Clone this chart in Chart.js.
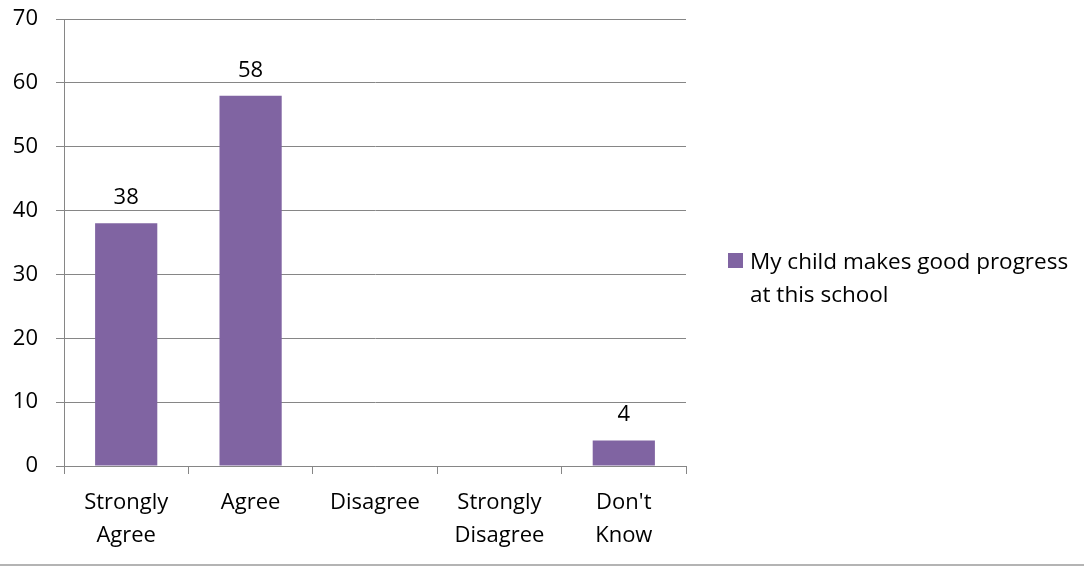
<!DOCTYPE html>
<html>
<head>
<meta charset="utf-8">
<script src="https://cdn.jsdelivr.net/npm/chart.js@4"></script>
<style>
  html, body { margin: 0; padding: 0; background: #fff; }
  .wrap { position: relative; width: 1086px; height: 566px; overflow: hidden; }
  .wrap canvas { position: absolute; left: 0; top: 0; }
  .baseLine { position: absolute; left: 0; top: 564px; width: 1084px; height: 0; border-top: 2px solid #b4b4b4; }
  .legend { position: absolute; left: 728px; top: 244px; width: 358px; font-family: "Open Sans", sans-serif; font-size: 22.5px; line-height: 33px; color: #000; }
  .legend .box { position: absolute; left: 0; top: 9px; width: 15px; height: 15px; background: #8064A2; }
  .legend .txt { margin-left: 22px; }
</style>
</head>
<body>
<div class="wrap">
  <canvas id="myChart" width="1086" height="566"></canvas>
  <div class="baseLine"></div>
  <div class="legend"><span class="box"></span><div class="txt" id="legendText"></div></div>
</div>
<script>
const categories = [["Strongly", "Agree"], "Agree", "Disagree", ["Strongly", "Disagree"], ["Don't", "Know"]]
const seriesName = "My child makes good progress at this school"
const values = [38, 58, 0, 0, 4]
const yTicks = [0, 10, 20, 30, 40, 50, 60, 70]

const purple = "#8064A2"
const axisGray = "#868686"
const fontFamily = "'Open Sans', sans-serif"

document.getElementById("legendText").textContent = seriesName

// numbers above the bars (skip zeros, like the original)
const barLabels = {
    id: 'barLabels',
    afterDatasetsDraw(chart) {
        const ctx = chart.ctx
        const meta = chart.getDatasetMeta(0)
        ctx.save()
        ctx.font = "22px " + fontFamily
        ctx.fillStyle = "#000"
        ctx.textAlign = "center"
        ctx.textBaseline = "alphabetic"
        meta.data.forEach((bar, i) => {
            if (!values[i]) return
            ctx.fillText(String(values[i]), bar.x, bar.y - 19)
        })
        ctx.restore()
    }
}

const ctx = document.getElementById("myChart").getContext("2d")

const chart = new Chart(ctx, {
    type: 'bar',
    data: {
        labels: categories,
        datasets: [{
            label: seriesName,
            data: values,
            backgroundColor: purple,
            borderWidth: 0,
            categoryPercentage: 1,
            barPercentage: 0.5
        }]
    },
    options: {
        responsive: false,
        animation: false,
        layout: { padding: { left: 0, right: 400, top: 19, bottom: 0 } },
        plugins: {
            legend: { display: false },
            tooltip: { enabled: false }
        },
        scales: {
            x: {
                offset: true,
                grid: {
                    offset: true,
                    drawOnChartArea: false,
                    drawTicks: true,
                    tickLength: 8,
                    color: axisGray
                },
                border: { display: true, color: axisGray, width: 1 },
                ticks: {
                    color: "#000",
                    padding: 12,
                    maxRotation: 0,
                    autoSkip: false,
                    font: { family: fontFamily, size: 22, lineHeight: 1.5 }
                },
                afterFit: s => { s.height = 100; s.paddingLeft = 0; s.paddingRight = 0 }
            },
            y: {
                min: 0,
                max: 70,
                afterBuildTicks: s => { s.ticks = yTicks.map(v => ({ value: v })) },
                grid: {
                    drawTicks: true,
                    tickLength: 8,
                    color: axisGray
                },
                border: { display: true, color: axisGray, width: 1 },
                ticks: {
                    color: "#000",
                    padding: 18,
                    font: { family: fontFamily, size: 22 }
                },
                afterFit: s => { s.width = 64; s.paddingTop = 0; s.paddingBottom = 0 }
            }
        }
    },
    plugins: [barLabels]
})
</script>
</body>
</html>
